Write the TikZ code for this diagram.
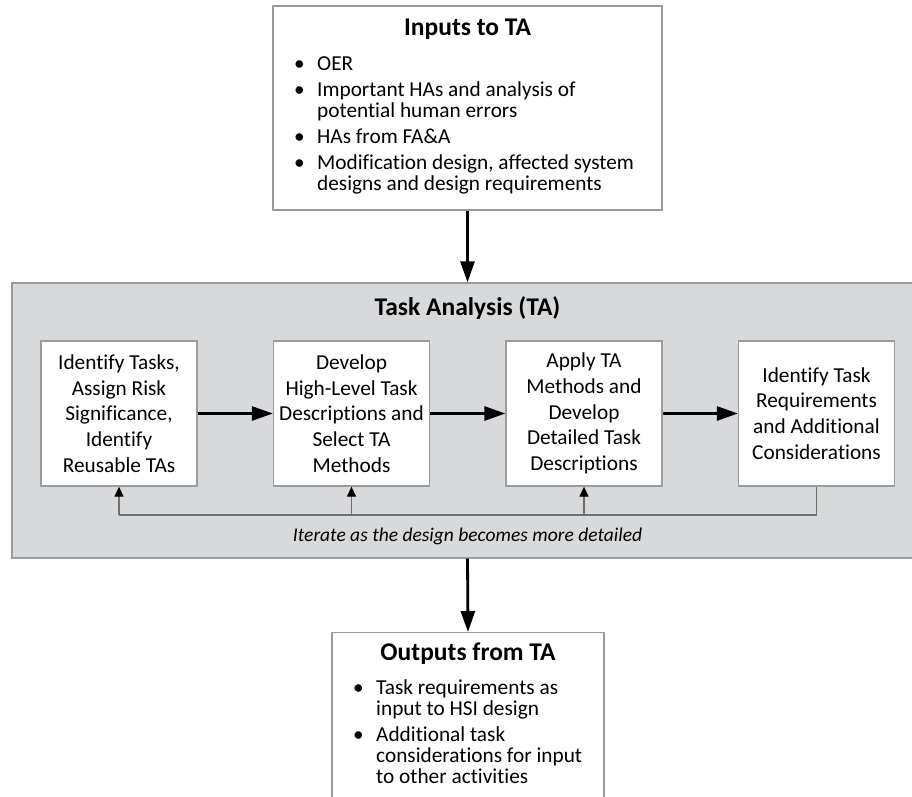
\documentclass[tikz,border=0pt]{standalone}
\usepackage{fontspec}
\setmainfont{Carlito}[Ligatures=NoCommon]
\usetikzlibrary{arrows.meta}
\definecolor{panelgray}{RGB}{216,217,219}
\definecolor{edgegray}{RGB}{155,155,155}
\definecolor{loopgray}{RGB}{112,112,112}
% bullet followed by a ragged block of lines; first baseline is the box baseline
\newcommand\bulitem[3]{\makebox[#1][l]{\textbullet}\parbox[t]{#2}{\raggedright\fontsize{21.3}{21}\selectfont #3}}

\begin{document}
\begin{tikzpicture}[x=1pt,y=-1pt,
  box/.style={draw=edgegray,line width=1.3pt,fill=white,inner sep=0pt},
  stepbox/.style={box,minimum width=156pt,minimum height=145pt,align=center,
    font=\fontsize{21.3}{25.8}\selectfont},
  heading/.style={font=\fontsize{25.5}{30}\selectfont\bfseries,inner sep=0pt,anchor=base},
  item/.style={inner sep=0pt,anchor=base west,font=\fontsize{21.3}{21}\selectfont},
  mainarrow/.style={line width=2.8pt,-{Triangle[length=21pt,width=14pt]}},
  loopline/.style={draw=loopgray,line width=1.3pt},
  looparrow/.style={loopline,-{Triangle[length=10pt,width=9pt,color=black]}}
]
\useasboundingbox (0,0) rectangle (912,796);
\clip (0,0) rectangle (912,796);

% input box
\node[box,minimum width=389pt,minimum height=204pt] (inbox) at (467.5,108) {};
\node[heading] (intitle) at (467.5,35) {Inputs to TA};
\node[item] (in1) at (294,70)    {\bulitem{23pt}{330pt}{OER}};
\node[item] (in2) at (294,96)    {\bulitem{23pt}{330pt}{Important HAs and analysis of\\potential human errors}};
\node[item] (in3) at (294,143)   {\bulitem{23pt}{330pt}{HAs from FA\&A}};
\node[item] (in4) at (294,169.5) {\bulitem{23pt}{330pt}{Modification design, affected system\\designs and design requirements}};

% task analysis panel
\node[draw=edgegray,line width=1.3pt,fill=panelgray,inner sep=0pt,
  minimum width=903pt,minimum height=275pt] (ta) at (463.5,420.5) {};
\node[heading] (tatitle) at (467.5,315) {Task Analysis (TA)};

\node[stepbox] (s1) at (119,413.5) {Identify Tasks,\\Assign Risk\\Significance,\\Identify\\Reusable TAs};
\node[stepbox] (s2) at (351.5,413.5) {Develop\\High-Level Task\\Descriptions and\\Select TA\\Methods};
\node[stepbox] (s3) at (584,413.5) {Apply TA\\Methods and\\Develop\\Detailed Task\\Descriptions};
\node[stepbox] (s4) at (816.5,413.5) {Identify Task\\Requirements\\and Additional\\Considerations};

\draw[mainarrow] (s1.east) -- (s2.west);
\draw[mainarrow] (s2.east) -- (s3.west);
\draw[mainarrow] (s3.east) -- (s4.west);

% iteration loop
\coordinate (loopy) at (0,515);
\draw[loopline] (s4.south) -- (s4.south |- loopy) -- (s1.south |- loopy);
\draw[looparrow] (s1.south |- loopy) -- (s1.south);
\draw[looparrow] (s2.south |- loopy) -- (s2.south);
\draw[looparrow] (s3.south |- loopy) -- (s3.south);
\node[inner sep=0pt,anchor=base,font=\fontsize{19.5}{24}\selectfont\itshape] (iter)
  at (467.5,541) {Iterate as the design becomes more detailed};

% output box
\node[box,anchor=north,minimum width=272pt,minimum height=220pt] (outbox) at (468,632) {};
\node[heading] (outtitle) at (468,660) {Outputs from TA};
\node[item] (out1) at (353,694)   {\bulitem{23pt}{220pt}{Task requirements as\\input to HSI design}};
\node[item] (out2) at (353,741.5) {\bulitem{23pt}{220pt}{Additional task\\considerations for input\\to other activities}};

% flow between stages
\draw[mainarrow] (inbox.south) -- (inbox.south |- ta.north);
\draw[mainarrow] (inbox.south |- ta.south) -- (outbox.north);
\end{tikzpicture}
\end{document}
